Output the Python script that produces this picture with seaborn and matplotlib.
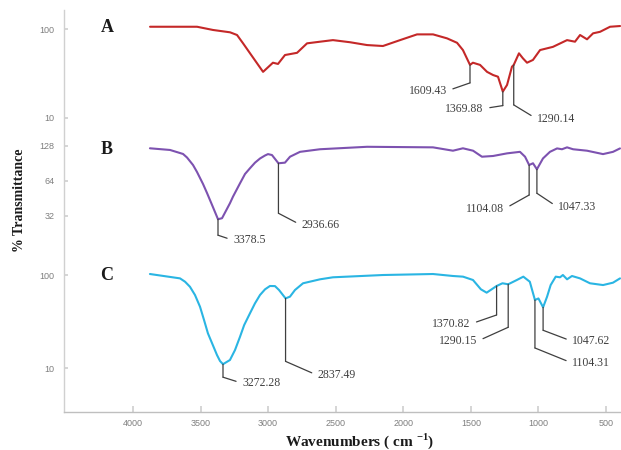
import matplotlib
matplotlib.use("Agg")
import matplotlib.pyplot as plt
from matplotlib.ticker import NullLocator, FixedLocator, FixedFormatter
from matplotlib.transforms import offset_copy
import pandas as pd
import seaborn as sns

# ---- spectrum A ----
a_wavenumber = [3945, 3602, 3485, 3361, 3310, 3266, 3215, 3164, 3120, 3048, 3011, 2960, 2872,
                2799, 2704, 2610, 2485, 2361, 2245, 2120, 1996, 1879, 1777, 1704, 1661,
                1609.43, 1588, 1536, 1485, 1441, 1405, 1369.88, 1339, 1303, 1290.14, 1252,
                1223, 1193, 1150, 1098, 1004, 901, 843, 806, 755, 711, 660, 587, 514]
a_transmittance = [106, 106, 97.5, 91.8, 85.6, 69, 53.3, 41.2, 33, 41.8, 40.5, 51, 54,
                   69, 72, 75, 71, 66, 64.4, 75, 87, 87, 78.5, 70, 58,
                   39.5, 41.8, 39.5, 33, 30.4, 29.1, 19.8, 23.5, 37.7, 39.5, 53.3,
                   46.8, 41.8, 44.9, 58, 63, 75, 72, 85.6, 76.6, 89.4, 93, 106, 108]
a_peaks = [1609.43, 1369.88, 1290.14]

# ---- spectrum B ----
b_wavenumber = [3876, 3729, 3634, 3605, 3561, 3532, 3488, 3459, 3422, 3378.5, 3349, 3291,
                3269, 3218, 3181, 3145, 3108, 3071, 3035, 3013, 2984, 2936.66, 2889, 2852,
                2779, 2633, 2289, 1807, 1661, 1588, 1514, 1449, 1368, 1266, 1171, 1134,
                1104.08, 1076, 1047.33, 1003, 952, 900, 864, 827, 783, 681, 564, 491, 440]
b_transmittance = [122.3, 118.3, 109.3, 101.9, 87.8, 76.5, 60.3, 50.5, 39.8, 30, 30.6, 41.2,
                   46.9, 61, 73.5, 82.3, 92, 100, 106, 109, 107, 90.9, 92, 103.5,
                   114, 120, 126, 124.6, 116.6, 122.3, 116.6, 103.5, 105, 110.6, 114, 103.5,
                   87.8, 90.9, 80.7, 100, 114, 122, 120, 124.6, 120, 116.6, 109, 114, 122]
b_peaks = [3378.5, 2936.66, 1104.08, 1047.33]

# ---- spectrum C ----
c_wavenumber = [3780, 3571, 3536, 3502, 3467, 3432, 3404, 3377, 3349, 3314, 3293, 3272.28,
                3224, 3189, 3154, 3125, 3085, 3050, 3015, 2980, 2946, 2911, 2883, 2837.49,
                2807, 2772, 2716, 2598, 2508, 2160, 1813, 1674, 1604, 1535, 1480, 1440,
                1405, 1370.82, 1330, 1290.15, 1230, 1185, 1140, 1104.31, 1080, 1047.62,
                1020, 995, 960, 930, 910, 881, 847, 791, 722, 631, 562, 513]
c_transmittance = [102.5, 92, 84.7, 74.8, 61, 45.6, 32.8, 23.6, 18.6, 13.8, 11.9, 11.0,
                   12.2, 15.6, 21.7, 29, 38.7, 49.6, 61, 70.2, 76.2, 76, 69, 56.1,
                   58.5, 69, 81.5, 89.9, 94.5, 100, 102.5, 97.6, 96, 88.4, 70.2, 64.6,
                   70.2, 76.2, 81.5, 79.5, 88.4, 96, 84.7, 53.9, 56, 45,
                   58.5, 78, 96, 94.5, 100, 89.9, 97.6, 92, 81.5, 78, 82.7, 92]
c_peaks = [3272.28, 2837.49, 1370.82, 1290.15, 1104.31, 1047.62]

x_ticks = [4000, 3500, 3000, 2500, 2000, 1500, 1000, 500]
a_yticks = [10, 100]
b_yticks = [32, 64, 128]
c_yticks = [10, 100]

sns.set_theme(style="white")
plt.rcParams["font.family"] = ["Liberation Serif", "DejaVu Serif"]
plt.rcParams["mathtext.fontset"] = "custom"
plt.rcParams["mathtext.rm"] = "Liberation Serif"
plt.rcParams["mathtext.bf"] = "Liberation Serif:bold"

W, H = 621, 450
fig = plt.figure(figsize=(W / 100, H / 100), dpi=100)

def rect(top, bottom, left=64, right=621):
    return [left / W, 1 - bottom / H, (right - left) / W, (bottom - top) / H]

TICK_GRAY = "#7f7f7f"
SPINE_GRAY = "#d0d0d0"
LEADER = "#3f3f3f"

# background frame carrying the shared wavenumber axis
frame = fig.add_axes(rect(10, 412))
frame.set_xlim(4510.6, 388.9)
frame.set_yticks([])
frame.set_xticks(x_ticks)
frame.set_xticklabels([str(t) for t in x_ticks], family="Liberation Sans")
frame.tick_params(axis="x", bottom=True, direction="in", length=4, color=SPINE_GRAY,
                  labelsize=6.5, labelcolor=TICK_GRAY, pad=5)
for side in ("top", "right"):
    frame.spines[side].set_visible(False)
frame.spines["left"].set_color(SPINE_GRAY)
frame.spines["bottom"].set_color("#bfbfbf")
frame.spines["left"].set_linewidth(1.0)
frame.spines["bottom"].set_linewidth(1.0)

panels = [
    dict(wn=a_wavenumber, t=a_transmittance, peaks=a_peaks, ticks=a_yticks, base=10,
         box=(10, 132), xlim=(4573.2, 507.1), ylim=(6.96, 163.5), color="#c42828",
         letter="A", letter_y=27,
         leaders=[(18, -23, -8, "right"), (14, -19, -3, "right"), (40, 23, -14, "left")]),
    dict(wn=b_wavenumber, t=b_transmittance, peaks=b_peaks, ticks=b_yticks, base=2,
         box=(132, 250), xlim=(4504.2, 432.6), ylim=(16.3, 168.9), color="#7d52b0",
         letter="B", letter_y=149,
         leaders=[(16, 15, -5, "left"), (50, 23, -12, "left"),
                  (30, -25, -14, "right"), (24, 21, -14, "left")]),
    dict(wn=c_wavenumber, t=c_transmittance, peaks=c_peaks, ticks=c_yticks, base=10,
         box=(250, 412), xlim=(4377.3, 506.2), ylim=(3.37, 185.7), color="#2ab5e3",
         letter="C", letter_y=276,
         leaders=[(13, 19, -6, "left"), (63, 32, -14, "left"), (29, -26, -9, "right"),
                  (43, -31, -14, "right"), (48, 37, -15, "left"), (23, 29, -11, "left")]),
]


def leader(ax, x, y, text, drop, dx, dy, ha):
    """Vertical drop from a band minimum, then a short slanted line to its label."""
    knee = offset_copy(ax.transData, fig=ax.figure, x=0, y=-drop, units="dots")
    line_kw = dict(arrowstyle="-", color=LEADER, lw=0.9, shrinkA=0, shrinkB=0)
    ax.annotate("", xy=(x, y), xycoords="data", xytext=(x, y), textcoords=knee,
                arrowprops=line_kw, annotation_clip=False)
    ax.annotate(text, xy=(x, y), xycoords=knee, xytext=(dx, dy), textcoords="offset pixels",
                ha=ha, va="center", fontsize=8.5, color=LEADER, family="Liberation Serif",
                annotation_clip=False,
                arrowprops=dict(line_kw, shrinkA=2, relpos=(1 if ha == "right" else 0, 0.5)))


for p in panels:
    ax = fig.add_axes(rect(*p["box"]))
    ax.patch.set_alpha(0)
    df = pd.DataFrame({"wavenumber": p["wn"], "transmittance": p["t"]})
    sns.lineplot(data=df, x="wavenumber", y="transmittance", ax=ax, color=p["color"],
                 lw=1.5, estimator=None, sort=True)
    ax.set_yscale("log", base=p["base"])
    ax.set_xlim(*p["xlim"])
    ax.set_ylim(*p["ylim"])
    ax.yaxis.set_major_locator(FixedLocator(p["ticks"]))
    ax.yaxis.set_major_formatter(FixedFormatter([str(t) for t in p["ticks"]]))
    ax.yaxis.set_minor_locator(NullLocator())
    ax.set_xticks([])
    ax.set_xlabel("")
    ax.set_ylabel("")
    ax.tick_params(axis="y", which="major", left=True, direction="in", length=3,
                   color=SPINE_GRAY, labelsize=6.5, labelcolor=TICK_GRAY, pad=7)
    for lbl in ax.get_yticklabels():
        lbl.set_family("Liberation Sans")
    for s in ax.spines.values():
        s.set_visible(False)

    lookup = dict(zip(p["wn"], p["t"]))
    for wn, (drop, dx, dy, ha) in zip(p["peaks"], p["leaders"]):
        leader(ax, wn, lookup[wn], f"{wn:g}", drop, dx, dy, ha)

    fig.text(107 / W, 1 - p["letter_y"] / H, p["letter"], ha="center", va="center",
             fontsize=13, fontweight="bold", color="#1a1a1a", family="Liberation Serif")

fig.text(20 / W, 1 - 200 / H, "% Transmittance", rotation=90, ha="center", va="center",
         fontsize=10, fontweight="bold", color="#1a1a1a", family="Liberation Serif")
fig.text(360 / W, 1 - 441 / H, r"Wavenumbers ( cm $^{\mathbf{-1}}$)", ha="center",
         va="center", fontsize=11, fontweight="bold", color="#1a1a1a",
         family="Liberation Serif")

fig.savefig("out.png", dpi=100)
